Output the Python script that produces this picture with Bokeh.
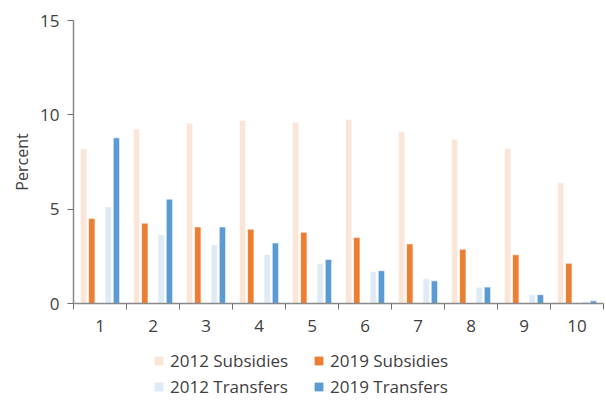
from bokeh.plotting import figure
from bokeh.layouts import column
from bokeh.models import ColumnDataSource, FixedTicker, Legend, LegendItem
from bokeh.transform import dodge
from bokeh.embed import file_html
from bokeh.resources import INLINE

deciles = [1, 2, 3, 4, 5, 6, 7, 8, 9, 10]
tick_labels = ["1", "2", "3", "4", "5", "6", "7", "8", "9", "10"]
subs_2012 = [8.2, 9.25, 9.55, 9.7, 9.6, 9.75, 9.1, 8.7, 8.23, 6.4]
subs_2019 = [4.5, 4.26, 4.06, 3.94, 3.77, 3.5, 3.16, 2.87, 2.58, 2.13]
trans_2012 = [5.12, 3.64, 3.12, 2.6, 2.12, 1.7, 1.31, 0.86, 0.46, 0.12]
trans_2019 = [8.78, 5.53, 4.06, 3.21, 2.33, 1.74, 1.2, 0.87, 0.47, 0.14]

series_names = ["2012 Subsidies", "2019 Subsidies", "2012 Transfers", "2019 Transfers"]
colors = ["#FBE5D6", "#ED7D31", "#DEEBF7", "#5B9BD5"]

src = ColumnDataSource(dict(x=deciles, s12=subs_2012, s19=subs_2019,
                            t12=trans_2012, t19=trans_2019))

FONT = "Open Sans"
TXT = "#404040"

p = figure(width=606, height=335, output_backend="svg", toolbar_location=None,
           x_range=(0.5, 10.5), y_range=(0, 15),
           min_border_left=73, min_border_right=3, min_border_top=20,
           min_border_bottom=32)
p.outline_line_color = None
p.xgrid.grid_line_color = None
p.ygrid.grid_line_color = None

offsets = [-0.31, -0.155, 0.155, 0.31]
cols = ["s12", "s19", "t12", "t19"]
for off, c, col in zip(offsets, cols, colors):
    p.vbar(x=dodge("x", off), top=c, width=0.12, bottom=0, source=src,
           fill_color=col, line_color="white", line_width=0.6)

# x axis
p.xaxis.ticker = FixedTicker(ticks=deciles,
                             minor_ticks=[d - 0.5 for d in deciles] + [10.5])
p.xaxis.major_label_overrides = {d: l for d, l in zip(deciles, tick_labels)}
p.xaxis.major_tick_line_color = None
p.xaxis.minor_tick_in = 0
p.xaxis.minor_tick_out = 6
p.xaxis.minor_tick_line_color = "#707070"
p.xaxis.axis_line_color = "#8a8a8a"
p.xaxis.axis_line_width = 1.5
p.xaxis.major_label_text_font = FONT
p.xaxis.major_label_text_font_size = "17px"
p.xaxis.major_label_text_color = TXT
p.xaxis.major_label_standoff = 10

# y axis
p.yaxis.ticker = FixedTicker(ticks=[0, 5, 10, 15], minor_ticks=[])
p.yaxis.major_tick_in = 0
p.yaxis.major_tick_out = 6
p.yaxis.major_tick_line_color = "#707070"
p.yaxis.axis_line_color = "#8a8a8a"
p.yaxis.axis_line_width = 1.5
p.yaxis.major_label_text_font = FONT
p.yaxis.major_label_text_font_size = "17px"
p.yaxis.major_label_text_color = TXT
p.yaxis.major_label_standoff = 8
p.yaxis.axis_label = "Percent"
p.yaxis.axis_label_text_font = FONT
p.yaxis.axis_label_text_font_size = "16px"
p.yaxis.axis_label_text_font_style = "normal"
p.yaxis.axis_label_text_color = TXT
p.yaxis.axis_label_standoff = 4

# legend strip below the chart
lg = figure(width=606, height=68, output_backend="svg", toolbar_location=None,
            x_range=(0, 1), y_range=(0, 1), x_axis_type=None, y_axis_type=None,
            min_border_left=0, min_border_right=0, min_border_top=0, min_border_bottom=0)
lg.outline_line_color = None
lg.xgrid.grid_line_color = None
lg.ygrid.grid_line_color = None
hidden = ColumnDataSource(dict(x=[5.0], top=[0.0]))
dummies = [lg.vbar(x="x", top="top", width=0.1, source=hidden, fill_color=c,
                   line_color=None) for c in colors]
legend = Legend(items=[LegendItem(label=n, renderers=[r]) for n, r in zip(series_names, dummies)],
                orientation="horizontal", ncols=2, location=(80, 5),
                label_text_font=FONT, label_text_font_size="17px", label_text_color=TXT,
                glyph_width=11, glyph_height=11, label_standoff=6, label_width=140,
                label_height=18, spacing=3, padding=0, margin=0,
                border_line_color=None, background_fill_alpha=0)
lg.add_layout(legend, "center")

layout = column(p, lg, spacing=0)
open("out.html", "w").write(file_html(layout, INLINE))
